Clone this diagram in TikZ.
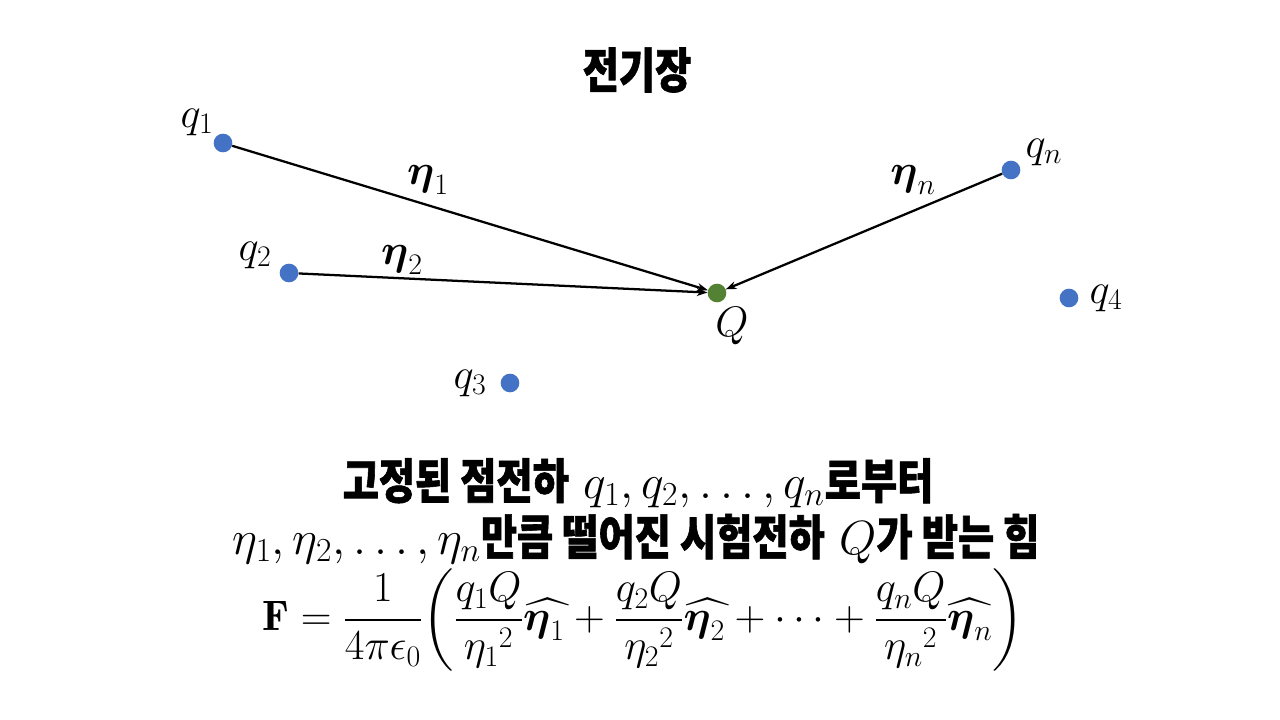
\RequirePackage{fix-cm}
\documentclass[tikz,border=0pt]{standalone}
\usepackage{amsmath,amssymb}
\usepackage{fontspec}
\newfontfamily\kr{Noto Sans CJK KR}[FakeStretch=0.82,BoldFeatures={FakeBold=1.2}]
\usetikzlibrary{arrows.meta}
\definecolor{qblue}{HTML}{4472C4}
\definecolor{qgreen}{HTML}{548235}
\begin{document}
\begin{tikzpicture}[x=0.75pt,y=-0.75pt]
\useasboundingbox (0,0) rectangle (1280,720);
\tikzset{
  charge/.style={circle,fill=qblue,minimum size=14pt,inner sep=0pt},
  testq/.style={circle,fill=qgreen,minimum size=14pt,inner sep=0pt},
  lab/.style={inner sep=0pt,font=\fontsize{32}{38}\selectfont},
  arr/.style={line width=1.7pt,-{Stealth[length=8pt,width=6pt]}},
  heading/.style={inner sep=0pt,font=\fontsize{36}{42}\selectfont\kr\bfseries},
  body/.style={inner sep=0pt,font=\fontsize{36}{42}\selectfont},
  formula/.style={inner sep=0pt,font=\fontsize{32}{38}\selectfont}
}
\node[charge] (q1) at (223,143) {};
\node[charge] (q2) at (289,273) {};
\node[charge] (q3) at (510,383) {};
\node[charge] (qn) at (1011,170) {};
\node[charge] (q4) at (1069,298) {};
\node[testq] (Q) at (717,293) {};
\node[lab] (lq1) at (197,122) {$q_1$};
\node[lab] (lq2) at (255,255) {$q_2$};
\node[lab] (lq3) at (470,383) {$q_3$};
\node[lab] (lqn) at (1044,152) {$q_n$};
\node[lab] (lq4) at (1106,298) {$q_4$};
\node[lab] (lQ) at (732,326) {$Q$};
\draw[arr] (q1) -- (Q);
\draw[arr] (q2) -- (Q);
\draw[arr] (qn) -- (Q);
\node[lab] (e1) at (428,180) {$\boldsymbol{\eta}_1$};
\node[lab] (e2) at (402,260) {$\boldsymbol{\eta}_2$};
\node[lab] (en) at (913,180) {$\boldsymbol{\eta}_n$};
\node[heading] (title) at (637,70) {전기장};
\node[body] (l1) at (638,483) {{\kr\bfseries 고정된 점전하} $q_1, q_2, \ldots, q_n${\kr\bfseries 로부터}};
\node[body] (l2) at (636,539) {$\eta_1,\eta_2,\ldots,\eta_n${\kr\bfseries 만큼 떨어진 시험전하} $Q${\kr\bfseries 가 받는 힘}};
\node[formula] (f) at (643,620) {$\mathbf{F}=\dfrac{1}{4\pi\epsilon_0}\!\left(\dfrac{q_1Q}{{\eta_1}^2}\widehat{\boldsymbol{\eta}_1\mkern3mu}\mkern-3mu+\dfrac{q_2Q}{{\eta_2}^2}\widehat{\boldsymbol{\eta}_2\mkern3mu}\mkern-3mu+\cdots+\dfrac{q_nQ}{{\eta_n}^2}\widehat{\boldsymbol{\eta}_n}\right)$};
\end{tikzpicture}
\end{document}
